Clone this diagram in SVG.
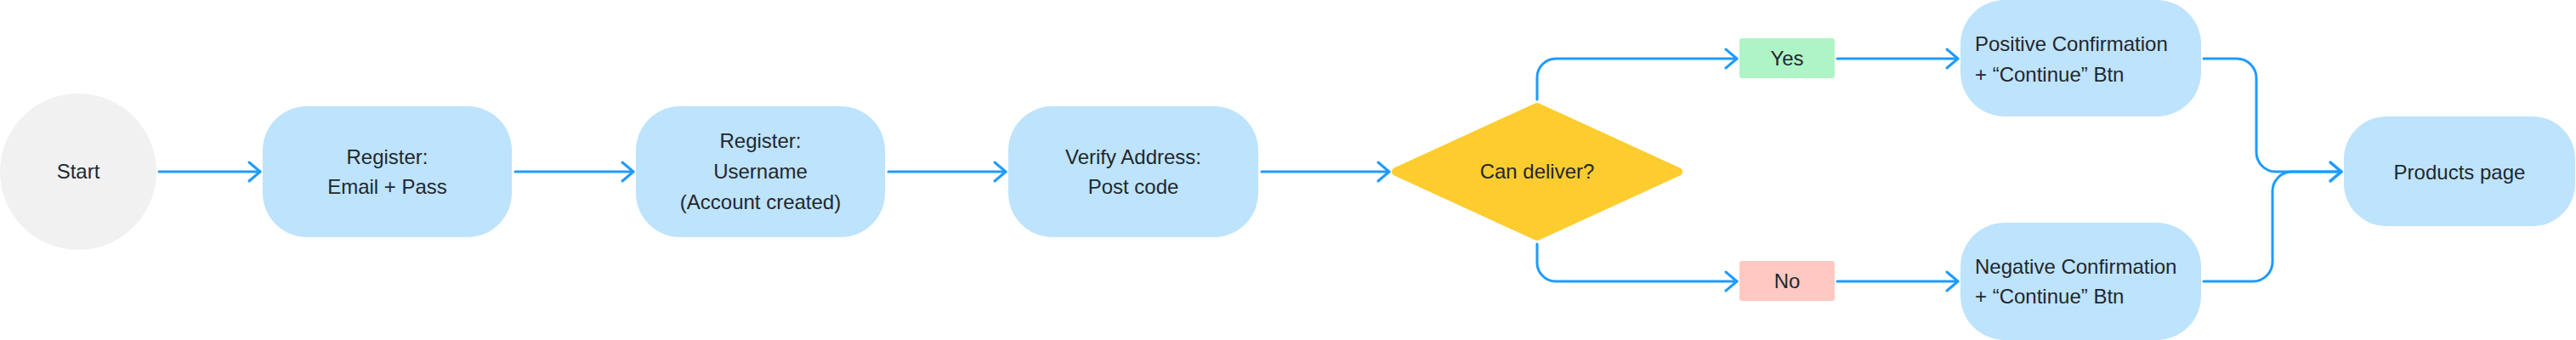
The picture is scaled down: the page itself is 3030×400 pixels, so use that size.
<svg xmlns="http://www.w3.org/2000/svg" width="3030" height="400" viewBox="0 0 3030 400">
  <style>
    .t { font-family: "Liberation Sans", Arial, sans-serif; font-size: 24px; fill: #22272e; }
    .c { text-anchor: middle; }
    .box { fill: #bee3fc; }
    .conn { fill: none; stroke: #1e9bff; stroke-width: 3; stroke-linecap: round; stroke-linejoin: round; }
  </style>
  <defs>
    <marker id="arr" markerUnits="userSpaceOnUse" viewBox="-16 -14 20 28" markerWidth="20" markerHeight="28" refX="0" refY="0" orient="auto">
      <path d="M-13,-11 L0,0 L-13,11" fill="none" stroke="#1e9bff" stroke-width="3" stroke-linecap="round" stroke-linejoin="round"/>
    </marker>
  </defs>
  <rect width="3030" height="400" fill="#ffffff"/>

  <g id="connectors">
    <path class="conn" d="M187,202 H306" marker-end="url(#arr)"/>
    <path class="conn" d="M606,202 H745" marker-end="url(#arr)"/>
    <path class="conn" d="M1045,202 H1183" marker-end="url(#arr)"/>
    <path class="conn" d="M1484,202 H1634" marker-end="url(#arr)"/>
    <path class="conn" d="M1808,117 V91 A22,22 0 0 1 1830,69 H2043" marker-end="url(#arr)"/>
    <path class="conn" d="M1808,287 V309 A22,22 0 0 0 1830,331 H2043" marker-end="url(#arr)"/>
    <path class="conn" d="M2161,69 H2303" marker-end="url(#arr)"/>
    <path class="conn" d="M2161,331 H2303" marker-end="url(#arr)"/>
    <path class="conn" d="M2592,69 H2631 A23,23 0 0 1 2654,92 V179 A23,23 0 0 0 2677,202 H2754" marker-end="url(#arr)"/>
    <path class="conn" d="M2592,331 H2650 A23,23 0 0 0 2673,308 V225 A23,23 0 0 1 2696,202 H2754" marker-end="url(#arr)"/>
  </g>

  <g id="start">
    <circle cx="92" cy="202" r="92" fill="#f1f1f1"/>
    <text class="t c" x="92" y="210">Start</text>
  </g>

  <g id="register-email">
    <rect class="box" x="309" y="125" width="293" height="154" rx="52" ry="52"/>
    <text class="t c" x="455.5" y="193">Register:</text>
    <text class="t c" x="455.5" y="228">Email + Pass</text>
  </g>

  <g id="register-username">
    <rect class="box" x="748" y="125" width="293" height="154" rx="52" ry="52"/>
    <text class="t c" x="894.5" y="174">Register:</text>
    <text class="t c" x="894.5" y="210">Username</text>
    <text class="t c" x="894.5" y="246">(Account created)</text>
  </g>

  <g id="verify-address">
    <rect class="box" x="1186" y="125" width="294" height="154" rx="52" ry="52"/>
    <text class="t c" x="1333" y="193">Verify Address:</text>
    <text class="t c" x="1333" y="228">Post code</text>
  </g>

  <g id="can-deliver">
    <polygon points="1642,202 1808,126 1974,202 1808,278" fill="#fdcc2e" stroke="#fdcc2e" stroke-width="10" stroke-linejoin="round"/>
    <text class="t c" x="1808" y="210">Can deliver?</text>
  </g>

  <g id="yes">
    <rect x="2046" y="45" width="112" height="47" rx="3" ry="3" fill="#aff4c6"/>
    <text class="t c" x="2102" y="77">Yes</text>
  </g>

  <g id="no">
    <rect x="2046" y="307" width="112" height="47" rx="3" ry="3" fill="#ffc9c1"/>
    <text class="t c" x="2102" y="339">No</text>
  </g>

  <g id="positive-confirmation">
    <rect class="box" x="2306" y="0" width="283" height="137" rx="52" ry="52"/>
    <text class="t" x="2323" y="60">Positive Confirmation</text>
    <text class="t" x="2323" y="96">+ “Continue” Btn</text>
  </g>

  <g id="negative-confirmation">
    <rect class="box" x="2306" y="262" width="283" height="138" rx="52" ry="52"/>
    <text class="t" x="2323" y="322">Negative Confirmation</text>
    <text class="t" x="2323" y="357">+ “Continue” Btn</text>
  </g>

  <g id="products-page">
    <rect class="box" x="2757" y="137" width="272" height="129" rx="50" ry="50"/>
    <text class="t c" x="2893" y="211">Products page</text>
  </g>
</svg>
